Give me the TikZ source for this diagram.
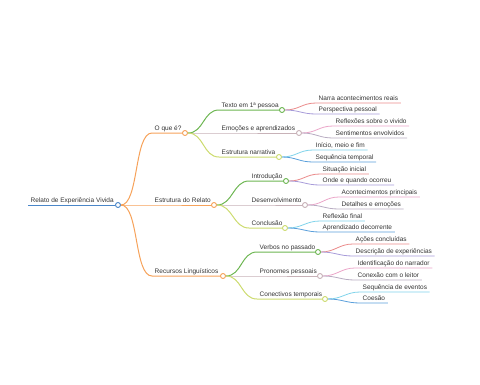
\documentclass[tikz,border=0pt]{standalone}
\usepackage{fontspec}
\setmainfont{Liberation Sans}
\definecolor{cRoot}{HTML}{4A86C8}
\definecolor{cOrange}{HTML}{F6A25A}
\definecolor{cGreen}{HTML}{6DB652}
\definecolor{cMauve}{HTML}{C8B2B8}
\definecolor{cYellow}{HTML}{CCDB6E}
\definecolor{cRed}{HTML}{EA8A8A}
\definecolor{cPurple}{HTML}{A79BD9}
\definecolor{cPink}{HTML}{EBA5C8}
\definecolor{cGrayP}{HTML}{B8ACC2}
\definecolor{cCyan}{HTML}{7FD3EA}
\definecolor{cBlue}{HTML}{5A9FDB}
\tikzset{
  lbl/.style={anchor=south west, inner xsep=2.5pt, inner ysep=1pt, text depth=1.5pt,
    font=\fontsize{6.5}{7}\selectfont, text=black!80},
  dot/.style={circle, fill=white, inner sep=0pt, minimum size=5pt, line width=0.9pt},
  edge/.style={line width=1pt},
  leaf/.style={line width=0.8pt}
}
\begin{document}
\begin{tikzpicture}[x=1pt, y=-1pt]
\useasboundingbox (0,0) rectangle (480,384);
% root
\node[lbl] (r) at (28,205) {Relato de Experiência Vivida};
\node[dot, draw=cRoot] (r') at (118,205) {};
\draw[edge, cRoot] (r.south west) -- (r'.west);
% first level
\foreach \n/\t/\x/\y/\cx in {a/O que é?/152/133/185,
    b/Estrutura do Relato/152/205/214,
    c/Recursos Linguísticos/152/276/223}
  {
  \node[lbl] (\n) at (\x,\y) {\t};
  \draw[edge, cOrange] (r'.east) .. controls +(18,0) and +(-18,0) .. (\n.south west)
    -- (\cx-2.5,\y);
  \node[dot, draw=cOrange] (\n') at (\cx,\y) {};
  }
% second level
\foreach \p/\n/\t/\x/\y/\cx/\c in {a/a1/Texto em 1ª pessoa/219/110/282/cGreen,
    a/a2/Emoções e aprendizados/219/133/299/cMauve,
    a/a3/Estrutura narrativa/219/157/279/cYellow,
    b/b1/Introdução/249/181/286/cGreen,
    b/b2/Desenvolvimento/249/205/305/cMauve,
    b/b3/Conclusão/249/228/285/cYellow,
    c/c1/Verbos no passado/257/252/318/cGreen,
    c/c2/Pronomes pessoais/257/276/320/cMauve,
    c/c3/Conectivos temporais/257/299/325/cYellow}
  {
  \node[lbl] (\n) at (\x,\y) {\t};
  \draw[edge, \c] (\p'.east) .. controls +(16,0) and +(-16,0) .. (\n.south west)
    -- (\cx-2.5,\y);
  \node[dot, draw=\c] (\n') at (\cx,\y) {};
  }
% leaves
\foreach \p/\t/\x/\y/\c [count=\i] in {a1/Narra acontecimentos reais/316/103/cRed,
    a1/Perspectiva pessoal/316/114/cPurple,
    a2/Reflexões sobre o vivido/333/126/cPink,
    a2/Sentimentos envolvidos/333/138/cGrayP,
    a3/{Início, meio e fim}/313/150/cCyan,
    a3/Sequência temporal/313/162/cBlue,
    b1/Situação inicial/320/174/cRed,
    b1/Onde e quando ocorreu/320/185/cPurple,
    b2/Acontecimentos principais/339/197/cPink,
    b2/Detalhes e emoções/339/209/cGrayP,
    b3/Reflexão final/320/221/cCyan,
    b3/Aprendizado decorrente/320/232/cBlue,
    c1/Ações concluídas/353/244/cRed,
    c1/Descrição de experiências/353/256/cPurple,
    c2/Identificação do narrador/355/268/cPink,
    c2/Conexão com o leitor/355/280/cGrayP,
    c3/Sequência de eventos/360/292/cCyan,
    c3/Coesão/360/303/cBlue}
  {
  \node[lbl] (l\i) at (\x,\y) {\t};
  \draw[leaf, \c] (\p'.east) .. controls +(14,0) and +(-14,0) .. (l\i.south west)
    -- (l\i.south east);
  }
\end{tikzpicture}
\end{document}
